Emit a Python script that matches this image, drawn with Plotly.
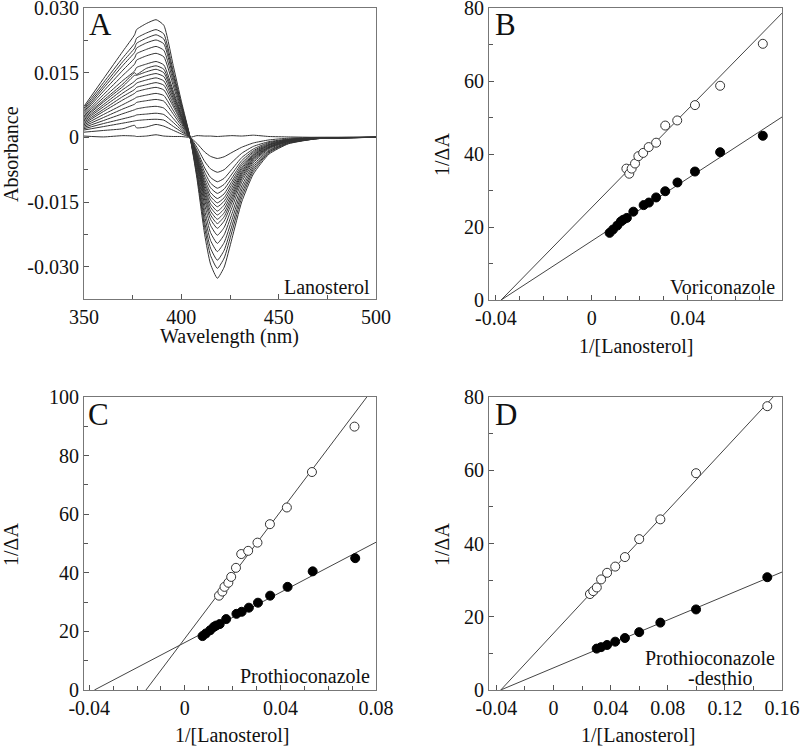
import plotly.graph_objects as go

# ---------------- DATA ----------------
# Panel A: difference spectra (milli-absorbance units), wavelengths in nm
wavelength = [350, 360, 370, 376, 377, 382, 387, 391, 396, 400, 404.5, 408, 412,
              415, 418.5, 422, 426, 431, 437, 445, 455, 470, 500]
spectra_mAU = [
    [7.2, 13.6, 20.0, 23.8, 25.0, 26.4, 27.3, 26.0, 16.3, 8.4, 0, -9.5, -22.6, -29.4, -32.7, -30.1, -23.5, -15.0, -8.5, -3.9, -1.5, -0.3, 0],
    [6.8, 12.7, 18.5, 21.8, 23.0, 24.2, 25.0, 24.0, 15.0, 7.8, 0, -8.8, -21.0, -27.4, -30.4, -28.0, -21.9, -14.0, -7.9, -3.6, -1.4, -0.3, 0],
    [6.4, 12.0, 17.6, 20.7, 21.8, 23.0, 23.8, 22.8, 14.3, 7.4, 0, -8.3, -19.7, -25.7, -28.5, -26.2, -20.5, -13.1, -7.4, -3.4, -1.3, -0.3, 0],
    [6.0, 11.4, 16.7, 19.7, 20.7, 21.9, 22.6, 21.7, 13.6, 7.0, 0, -7.7, -18.3, -23.9, -26.5, -24.4, -19.1, -12.2, -6.9, -3.2, -1.2, -0.3, 0],
    [5.7, 10.7, 15.6, 18.4, 19.4, 20.4, 21.1, 20.2, 12.7, 6.5, 0, -7.1, -17.0, -22.1, -24.6, -22.6, -17.7, -11.3, -6.4, -3.0, -1.1, -0.2, 0],
    [5.3, 9.9, 14.4, 17.0, 17.9, 18.9, 19.5, 18.7, 11.7, 6.0, 0, -6.6, -15.7, -20.4, -22.7, -20.9, -16.3, -10.4, -5.9, -2.7, -1.0, -0.2, 0],
    [5.0, 9.2, 13.2, 15.4, 16.2, 17.0, 17.6, 16.8, 10.6, 5.5, 0, -6.1, -14.6, -19.0, -21.1, -19.4, -15.2, -9.7, -5.5, -2.5, -0.9, -0.2, 0],
    [4.7, 8.6, 12.4, 15.0, 14.6, 16.0, 16.6, 15.8, 10.0, 5.1, 0, -5.8, -13.8, -18.0, -20.0, -18.4, -14.4, -9.2, -5.2, -2.4, -0.9, -0.2, 0],
    [4.4, 8.2, 11.8, 14.4, 14.4, 15.2, 15.8, 15.0, 9.5, 4.9, 0, -5.5, -13.1, -17.1, -19.0, -17.5, -13.7, -8.7, -4.9, -2.3, -0.9, -0.2, 0],
    [4.1, 7.6, 11.1, 13.0, 13.5, 14.3, 14.8, 14.1, 8.9, 4.6, 0, -5.2, -12.4, -16.2, -18.0, -16.6, -13.0, -8.3, -4.7, -2.2, -0.8, -0.2, 0],
    [3.8, 7.1, 10.3, 12.1, 12.6, 13.3, 13.8, 13.1, 8.3, 4.3, 0, -5.0, -11.8, -15.4, -17.1, -15.7, -12.3, -7.9, -4.4, -2.1, -0.8, -0.2, 0],
    [3.5, 6.5, 9.5, 11.1, 11.6, 12.2, 12.7, 12.1, 7.6, 3.9, 0, -4.7, -11.1, -14.5, -16.1, -14.8, -11.6, -7.4, -4.2, -1.9, -0.7, -0.2, 0],
    [3.2, 6.0, 8.7, 10.2, 10.6, 11.2, 11.6, 11.0, 7.0, 3.6, 0, -4.4, -10.5, -13.7, -15.2, -14.0, -10.9, -7.0, -4.0, -1.8, -0.7, -0.2, 0],
    [2.9, 5.3, 7.6, 9.0, 9.3, 9.8, 10.2, 9.7, 6.1, 3.2, 0, -4.1, -9.8, -12.8, -14.2, -13.1, -10.2, -6.5, -3.7, -1.7, -0.6, -0.1, 0],
    [2.6, 4.6, 6.6, 7.7, 8.1, 8.5, 8.8, 8.4, 5.3, 2.7, 0, -3.8, -9.0, -11.7, -13.0, -12.0, -9.4, -6.0, -3.4, -1.6, -0.6, -0.1, 0],
    [2.3, 3.9, 5.5, 6.4, 6.6, 7.0, 7.2, 6.8, 4.3, 2.2, 0, -3.4, -8.1, -10.6, -11.8, -10.9, -8.5, -5.4, -3.1, -1.4, -0.5, -0.1, 0],
    [2.0, 3.2, 4.3, 5.0, 5.2, 5.4, 5.6, 5.3, 3.4, 1.7, 0, -3.0, -7.1, -9.3, -10.3, -9.5, -7.4, -4.7, -2.7, -1.2, -0.5, -0.1, 0],
    [1.7, 2.5, 3.3, 3.8, 3.9, 4.1, 4.2, 4.0, 2.5, 1.3, 0, -2.3, -5.6, -7.3, -8.1, -7.5, -5.8, -3.7, -2.1, -1.0, -0.4, -0.1, 0],
    [1.2, 1.6, 2.0, 2.8, 2.2, 2.4, 3.0, 2.6, 1.6, 0.8, 0, -1.4, -3.4, -4.4, -4.9, -4.5, -3.5, -2.3, -1.3, -0.6, -0.2, 0, 0],
    [0.3, 0.1, 0.4, 0.3, 0.2, 0.3, 0.6, 0.3, 0.2, 0.2, 0, 0.4, 0.3, 0.3, 0.2, 0.3, 0.4, 0.3, 0.5, 0.2, 0.1, 0, 0],
]

# Panels B-D: double reciprocal plots (1/[Lanosterol] vs 1/dA)
control_x = [0.0074, 0.0088, 0.0106, 0.0121, 0.0131, 0.0146, 0.0173, 0.0216,
             0.0238, 0.0268, 0.0306, 0.0357, 0.0430, 0.0535, 0.0713]
control_y = [18.4, 19.3, 20.4, 21.5, 22.0, 22.5, 24.2, 26.0, 26.7, 28.1, 29.8,
             32.2, 35.2, 40.5, 45.0]

vori_x = [0.0144, 0.0156, 0.0166, 0.0180, 0.0194, 0.0214, 0.0237, 0.0268,
          0.0306, 0.0356, 0.0430, 0.0535, 0.0713]
vori_y = [36.0, 34.6, 36.0, 37.4, 39.4, 40.3, 41.9, 43.1, 47.8, 49.2, 53.4, 58.7, 70.2]

prothio_x = [0.0143, 0.0157, 0.0166, 0.0182, 0.0194, 0.0214, 0.0236, 0.0265,
             0.0304, 0.0356, 0.0427, 0.0532, 0.0710]
prothio_y = [32.2, 33.6, 35.2, 36.6, 38.6, 41.7, 46.4, 47.5, 50.3, 56.6, 62.3, 74.4, 89.9]

desthio_ctrl_x = [0.0302, 0.0333, 0.0375, 0.0432, 0.0500, 0.0600, 0.0748, 0.0998, 0.1497]
desthio_ctrl_y = [11.3, 11.7, 12.3, 13.2, 14.2, 15.8, 18.4, 22.0, 30.8]
desthio_x = [0.0255, 0.0278, 0.0303, 0.0333, 0.0375, 0.0432, 0.0500, 0.0600,
             0.0748, 0.0998, 0.1497]
desthio_y = [26.2, 27.0, 28.0, 30.2, 32.0, 33.7, 36.3, 41.2, 46.6, 59.2, 77.5]

# linear fits (slope, intercept)
fit_B_open = (671.0, 25.4)
fit_B_filled = (428.0, 16.2)
fit_C_open = (1082.0, 17.6)
fit_C_filled = (428.0, 16.2)
fit_D_open = (419.5, 15.5)
fit_D_filled = (163.5, 6.05)

# tick labels
A_xticks = [350, 400, 450, 500]
A_yticks = [0.030, 0.015, 0, -0.015, -0.030]
A_yticktext = ["0.030", "0.015", "0", "-0.015", "-0.030"]
BC_xticks = [-0.04, 0, 0.04, 0.08]
BC_xticktext = ["-0.04", "0", "0.04", "0.08"]
D_xticks = [-0.04, 0, 0.04, 0.08, 0.12, 0.16]
D_xticktext = ["-0.04", "0", "0.04", "0.08", "0.12", "0.16"]
BD_yticks = [0, 20, 40, 60, 80]
C_yticks = [0, 20, 40, 60, 80, 100]

# ---------------- LAYOUT HELPERS ----------------
W, H = 800, 754
FONT = "Liberation Serif, Times New Roman, DejaVu Serif, serif"


def dx(a, b):
    return [a / W, b / W]


def dy(top, bottom):
    return [1 - bottom / H, 1 - top / H]


def axis(domain, rng, tickvals, ticktext, minor_dtick, anchor):
    return dict(
        domain=domain, range=rng, anchor=anchor, automargin=False,
        tickmode="array", tickvals=tickvals, ticktext=ticktext,
        ticks="inside", ticklen=5, tickwidth=1, tickcolor="#555",
        showline=True, linecolor="#777", linewidth=1, mirror=True,
        showgrid=False, zeroline=False, ticklabeloverflow="allow",
        minor=dict(ticks="inside", ticklen=4, tickwidth=1, tickcolor="#555",
                   tickmode="linear", tick0=0, dtick=minor_dtick, showgrid=False),
        tickfont=dict(family=FONT, size=20, color="#111"),
        fixedrange=True,
    )


fig = go.Figure()

# ---- Panel A ----
for row in spectra_mAU:
    fig.add_trace(go.Scatter(
        x=wavelength, y=[v / 1000.0 for v in row], mode="lines",
        line=dict(color="#333", width=1, shape="spline", smoothing=0.5),
        xaxis="x", yaxis="y", showlegend=False, hoverinfo="skip"))


def add_points(x, y, filled, xa, ya):
    if filled:
        marker = dict(symbol="circle", size=9, color="#000", line=dict(color="#000", width=1))
    else:
        marker = dict(symbol="circle", size=9, color="white", line=dict(color="#333", width=1))
    fig.add_trace(go.Scatter(x=x, y=y, mode="markers", marker=marker,
                             xaxis=xa, yaxis=ya, showlegend=False, cliponaxis=False))


def add_fit(fit, xmax, xa, ya):
    slope, icpt = fit
    x0 = -icpt / slope
    fig.add_trace(go.Scatter(x=[x0, xmax], y=[0, slope * xmax + icpt], mode="lines",
                             line=dict(color="#444", width=1),
                             xaxis=xa, yaxis=ya, showlegend=False, hoverinfo="skip"))


B_xr = [-0.0429, 0.0793]
C_xr = [-0.0422, 0.0800]
D_xr = [-0.0452, 0.1600]

add_fit(fit_B_open, B_xr[1], "x2", "y2")
add_fit(fit_B_filled, B_xr[1], "x2", "y2")
add_points(vori_x, vori_y, False, "x2", "y2")
add_points(control_x, control_y, True, "x2", "y2")

add_fit(fit_C_open, C_xr[1], "x3", "y3")
add_fit(fit_C_filled, C_xr[1], "x3", "y3")
add_points(prothio_x, prothio_y, False, "x3", "y3")
add_points(control_x, control_y, True, "x3", "y3")

add_fit(fit_D_open, D_xr[1], "x4", "y4")
add_fit(fit_D_filled, D_xr[1], "x4", "y4")
add_points(desthio_x, desthio_y, False, "x4", "y4")
add_points(desthio_ctrl_x, desthio_ctrl_y, True, "x4", "y4")

layout = dict(
    width=W, height=H, margin=dict(l=0, r=0, t=0, b=0, autoexpand=False),
    paper_bgcolor="white", plot_bgcolor="white", showlegend=False,
    xaxis=axis(dx(84, 376), [350, 500], A_xticks, [str(v) for v in A_xticks], 25, "y"),
    yaxis=axis(dy(8, 299), [-0.0375, 0.03001], A_yticks, A_yticktext, 0.0075, "x"),
    xaxis2=axis(dx(489, 782), B_xr, BC_xticks, BC_xticktext, 0.01, "y2"),
    yaxis2=axis(dy(8, 300), [0, 80.01], BD_yticks, [str(v) for v in BD_yticks], 10, "x2"),
    xaxis3=axis(dx(84, 376), C_xr, BC_xticks, BC_xticktext, 0.01, "y3"),
    yaxis3=axis(dy(397, 690), [0, 100.01], C_yticks, [str(v) for v in C_yticks], 10, "x3"),
    xaxis4=axis(dx(489, 782), D_xr, D_xticks, D_xticktext, 0.02, "y4"),
    yaxis4=axis(dy(397, 690), [0, 80.01], BD_yticks, [str(v) for v in BD_yticks], 10, "x4"),
)
fig.update_layout(**layout)


def ann(text, x, y, size=20, xanchor="center", yanchor="middle", angle=0):
    fig.add_annotation(text=text, x=x / W, y=1 - y / H, xref="paper", yref="paper",
                       showarrow=False, xanchor=xanchor, yanchor=yanchor, textangle=angle,
                       font=dict(family=FONT, size=size, color="#111"))


# panel letters
ann("A", 87, 24, size=31, xanchor="left")
ann("B", 493, 25, size=31, xanchor="left")
ann("C", 86, 414, size=31, xanchor="left")
ann("D", 493, 414, size=31, xanchor="left")

# compound labels
ann("Lanosterol", 372, 287, xanchor="right")
ann("Voriconazole", 777, 287, xanchor="right")
ann("Prothioconazole", 372, 676, xanchor="right")
ann("Prothioconazole", 777, 658, xanchor="right")
ann("-desthio", 720, 678)

# axis titles
ann("Wavelength (nm)", 230, 337)
ann("Absorbance", 11, 154, angle=-90)
ann("1/[Lanosterol]", 636, 346)
ann("1/ΔA", 442, 155, angle=-90)
ann("1/[Lanosterol]", 232, 735)
ann("1/ΔA", 11, 545, angle=-90)
ann("1/[Lanosterol]", 638, 735)
ann("1/ΔA", 442, 545, angle=-90)

fig.write_html("out.html", config={"displayModeBar": False},
               post_script="document.body.style.margin='0';document.body.style.padding='0';")
